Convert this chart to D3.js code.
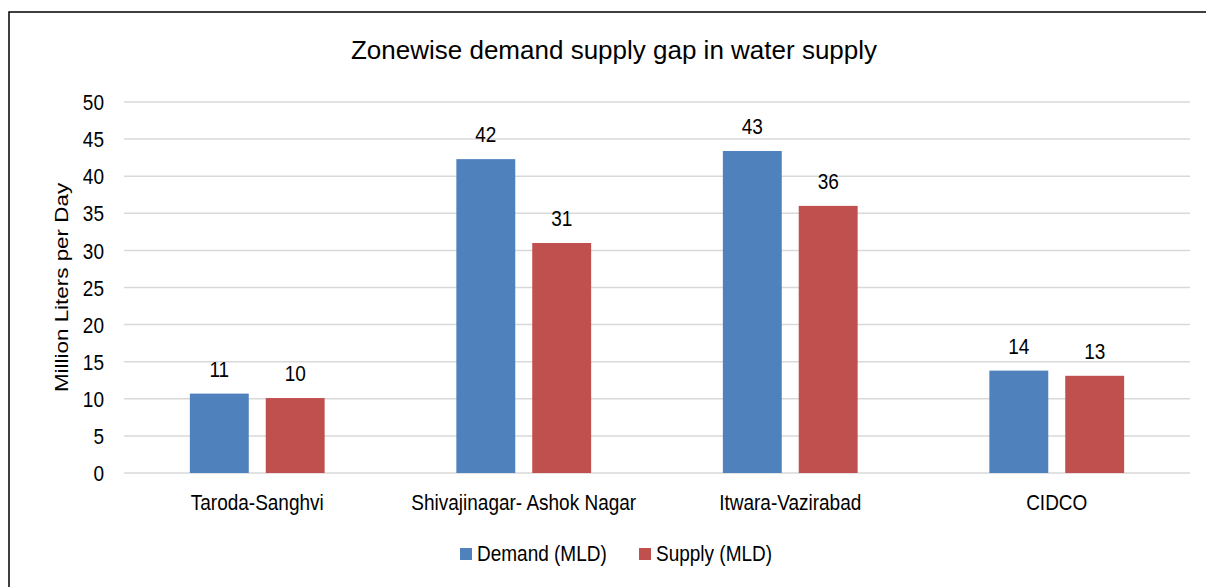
<!DOCTYPE html>
<html><head><meta charset="utf-8">
<script src="https://cdn.jsdelivr.net/npm/d3@7"></script>
<style>
body{margin:0;background:#fff;overflow:hidden;}
svg{display:block;font-family:"Liberation Sans",Arial,sans-serif;}
</style></head>
<body>
<svg id="chart" width="1206" height="587"></svg>
<script>
const categories = ["Taroda-Sanghvi", "Shivajinagar- Ashok Nagar", "Itwara-Vazirabad", "CIDCO"];
const seriesNames = ["Demand (MLD)", "Supply (MLD)"];
const demand = [10.7, 42.3, 43.4, 13.8];
const supply = [10.1, 31.0, 36.0, 13.1];
const yTicks = [0, 5, 10, 15, 20, 25, 30, 35, 40, 45, 50];
const colors = ["#4F81BD", "#C0504D"];
const title = "Zonewise demand supply gap in water supply";
const yTitle = "Million Liters per Day";

const svg = d3.select("#chart");
const plot = {left: 124, right: 1190, top: 102, bottom: 473};
const SY = 1.18; // vertical stretch of small text
const FS = 19;

svg.append("path").attr("d", "M9,600V12H1230")
  .attr("fill", "none").attr("stroke", "#000").attr("stroke-width", 1.5);

function label(g, x, yb, txt, anchor) {
  return g.append("text")
    .attr("transform", `translate(${x},${yb}) scale(1,${SY})`)
    .attr("text-anchor", anchor || "middle")
    .attr("font-size", FS).attr("fill", "#000").text(txt);
}

const y = d3.scaleLinear().domain([0, 50]).range([plot.bottom, plot.top]);
const x0 = d3.scaleBand().domain(categories).range([plot.left, plot.right]).padding(0);
const x1 = d3.scaleBand().domain(seriesNames).range([0, x0.bandwidth()])
  .paddingInner(0.2237).paddingOuter(0.868);

// gridlines
svg.append("g").selectAll("line").data(yTicks).join("line")
  .attr("x1", plot.left).attr("x2", plot.right)
  .attr("y1", d => y(d)).attr("y2", d => y(d))
  .attr("stroke", "#D9D9D9").attr("stroke-width", 1.5);

// y axis labels
const yAxis = d3.axisLeft(y).tickValues(yTicks).tickSize(0).tickPadding(0);
const ya = svg.append("g").attr("transform", `translate(${plot.left - 20},0)`).call(yAxis);
ya.select(".domain").remove();
ya.selectAll("text").attr("font-size", FS).attr("fill", "#000")
  .attr("font-family", "Liberation Sans, Arial, sans-serif")
  .attr("dy", "0.34em")
  .attr("transform", `scale(1,${SY})`);

// x axis labels
const xg = svg.append("g");
categories.forEach(c => label(xg, x0(c) + x0.bandwidth() / 2, 510, c));

const data = categories.map((c, i) => ({cat: c, vals: [
  {s: seriesNames[0], v: demand[i], c: colors[0]},
  {s: seriesNames[1], v: supply[i], c: colors[1]}
]}));

const groups = svg.append("g").selectAll("g").data(data).join("g")
  .attr("transform", d => `translate(${x0(d.cat)},0)`);
groups.selectAll("rect").data(d => d.vals).join("rect")
  .attr("x", d => x1(d.s)).attr("width", x1.bandwidth())
  .attr("y", d => y(d.v)).attr("height", d => y(0) - y(d.v))
  .attr("fill", d => d.c);
groups.each(function(d) {
  const g = d3.select(this);
  d.vals.forEach(v => label(g, x1(v.s) + x1.bandwidth() / 2, y(v.v) - 17, d3.format(".0f")(v.v)));
});

// title
svg.append("text").attr("x", 614).attr("y", 59).attr("text-anchor", "middle")
  .attr("font-size", 26).attr("fill", "#000").text(title);

// y title
svg.append("text")
  .attr("transform", `translate(68,${(plot.top + plot.bottom) / 2}) rotate(-90) scale(${SY},1)`)
  .attr("text-anchor", "middle").attr("font-size", FS).attr("fill", "#000").text(yTitle);

// legend
const legX = [460, 639];
const leg = svg.append("g");
seriesNames.forEach((s, i) => {
  leg.append("rect").attr("x", legX[i]).attr("y", 548).attr("width", 12).attr("height", 12)
    .attr("fill", colors[i]);
  label(leg, legX[i] + 17, 561, s, "start");
});
</script>
</body></html>
